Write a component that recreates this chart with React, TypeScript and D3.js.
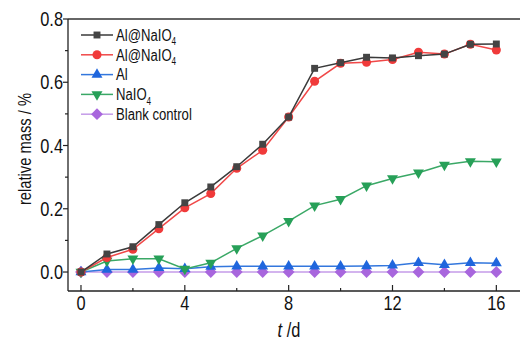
import { useEffect, useRef } from 'react';
import * as d3 from 'd3';

// ─── Data ───────────────────────────────────────────────────

const DAYS = [0, 1, 2, 3, 4, 5, 6, 7, 8, 9, 10, 11, 12, 13, 14, 15, 16];

const AL_NAIO4_A = [0, 0.057, 0.080, 0.150, 0.219, 0.269, 0.333, 0.404, 0.490, 0.644, 0.662, 0.679, 0.677, 0.684, 0.689, 0.720, 0.721];
const AL_NAIO4_B = [0, 0.046, 0.072, 0.137, 0.203, 0.248, 0.328, 0.385, 0.490, 0.603, 0.660, 0.663, 0.672, 0.695, 0.689, 0.720, 0.702];
const AL = [0, 0.008, 0.008, 0.013, 0.010, 0.017, 0.018, 0.018, 0.018, 0.018, 0.018, 0.019, 0.021, 0.029, 0.023, 0.029, 0.028];
const NAIO4 = [0, 0.035, 0.042, 0.042, 0.010, 0.029, 0.075, 0.115, 0.161, 0.210, 0.230, 0.273, 0.296, 0.314, 0.339, 0.350, 0.349];
const BLANK = [0, 0, 0, 0, 0, 0, 0, 0, 0, 0, 0, 0, 0, 0, 0, 0, 0];

const X_TICKS = [0, 4, 8, 12, 16];
const X_MINOR = [2, 6, 10, 14];
const Y_TICKS = [0, 0.2, 0.4, 0.6, 0.8];
const Y_MINOR = [0.1, 0.3, 0.5, 0.7];

type Sym = 'square' | 'circle' | 'triangle' | 'triangleDown' | 'diamond';

const SERIES: { name: string; values: number[]; line: string; fill: string; sym: Sym }[] = [
  { name: 'Al@NaIO', values: AL_NAIO4_A, line: '#3a3a3a', fill: '#444444', sym: 'square' },
  { name: 'Al@NaIO', values: AL_NAIO4_B, line: '#f04848', fill: '#f03a3a', sym: 'circle' },
  { name: 'Al', values: AL, line: '#3377dd', fill: '#1f66dd', sym: 'triangle' },
  { name: 'NaIO', values: NAIO4, line: '#3aa866', fill: '#27a058', sym: 'triangleDown' },
  { name: 'Blank control', values: BLANK, line: '#c49be8', fill: '#a866dd', sym: 'diamond' },
];

const SUB4 = [true, true, false, true, false];

// ─── Layout ─────────────────────────────────────────────────

const W = 520;
const H = 344;
const PLOT = { left: 68, right: 521, top: 19, bottom: 291 };
const FONT = '"Liberation Sans", Arial, sans-serif';
const NARROW = 0.82; // fake Arial Narrow

const SYMBOLS: Record<Sym, { type: d3.SymbolType; size: number; rot: number }> = {
  square: { type: d3.symbolSquare, size: 48, rot: 0 },
  circle: { type: d3.symbolCircle, size: 64, rot: 0 },
  triangle: { type: d3.symbolTriangle, size: 52, rot: 0 },
  triangleDown: { type: d3.symbolTriangle, size: 52, rot: 180 },
  diamond: { type: d3.symbolSquare, size: 70, rot: 45 },
};

type Sel = d3.Selection<any, any, any, any>;

function narrowText(parent: Sel, x: number, y: number, size: number, anchor: string, rot = 0) {
  return parent.append('g')
    .attr('transform', `translate(${x},${y}) rotate(${rot}) scale(${NARROW},1)`)
    .append('text')
    .attr('text-anchor', anchor)
    .attr('font-family', FONT)
    .attr('font-size', size)
    .attr('fill', '#111');
}

export default function App() {
  const svgRef = useRef<SVGSVGElement>(null);

  useEffect(() => {
    if (!svgRef.current) return;
    const svg = d3.select(svgRef.current);
    svg.selectAll('*').remove();

    const x = d3.scaleLinear().domain([-0.5, 16.9]).range([PLOT.left, PLOT.left + (16.9 + 0.5) * 25.96]);
    const y = d3.scaleLinear().domain([-0.06, 0.8]).range([PLOT.bottom, PLOT.top]);

    // Frame
    svg.append('line')
      .attr('x1', PLOT.left).attr('x2', PLOT.right)
      .attr('y1', PLOT.top).attr('y2', PLOT.top)
      .attr('stroke', '#333').attr('stroke-width', 1.3);
    svg.append('line')
      .attr('x1', PLOT.left).attr('x2', PLOT.right)
      .attr('y1', PLOT.bottom).attr('y2', PLOT.bottom)
      .attr('stroke', '#222').attr('stroke-width', 1.3);
    svg.append('line')
      .attr('x1', PLOT.left).attr('x2', PLOT.left)
      .attr('y1', PLOT.top).attr('y2', PLOT.bottom)
      .attr('stroke', '#222').attr('stroke-width', 1.3);

    // X ticks (inward)
    svg.append('g').selectAll('line').data(X_TICKS).join('line')
      .attr('x1', (d) => x(d)).attr('x2', (d) => x(d))
      .attr('y1', PLOT.bottom).attr('y2', PLOT.bottom - 6)
      .attr('stroke', '#222').attr('stroke-width', 1.2);
    svg.append('g').selectAll('line').data(X_MINOR).join('line')
      .attr('x1', (d) => x(d)).attr('x2', (d) => x(d))
      .attr('y1', PLOT.bottom).attr('y2', PLOT.bottom - 3)
      .attr('stroke', '#222').attr('stroke-width', 1.2);
    X_TICKS.forEach((d) => {
      narrowText(svg, x(d), 310, 20, 'middle').text(d);
    });

    // Y ticks (outward)
    svg.append('g').selectAll('line').data(Y_TICKS).join('line')
      .attr('x1', PLOT.left).attr('x2', PLOT.left - 5)
      .attr('y1', (d) => y(d)).attr('y2', (d) => y(d))
      .attr('stroke', '#222').attr('stroke-width', 1.2);
    svg.append('g').selectAll('line').data(Y_MINOR).join('line')
      .attr('x1', PLOT.left).attr('x2', PLOT.left - 3)
      .attr('y1', (d) => y(d)).attr('y2', (d) => y(d))
      .attr('stroke', '#222').attr('stroke-width', 1.2);
    Y_TICKS.forEach((d) => {
      narrowText(svg, 63, y(d), 20, 'end').attr('dy', '0.35em').text(d.toFixed(1));
    });

    // Axis titles
    narrowText(svg, 31, 149, 18, 'middle', -90).text('relative mass / %');
    const xt = narrowText(svg, 289, 337, 20, 'middle');
    xt.append('tspan').attr('font-style', 'italic').text('t');
    xt.append('tspan').text(' /d');

    // Series
    const line = d3.line<number>()
      .x((_, i) => x(DAYS[i]))
      .y((d) => y(d));

    const order = [4, 2, 3, 1, 0];
    order.forEach((si) => {
      const s = SERIES[si];
      const g = svg.append('g');
      g.append('path')
        .datum(s.values)
        .attr('d', line)
        .attr('fill', 'none')
        .attr('stroke', s.line)
        .attr('stroke-width', 1.5);
      const sym = SYMBOLS[s.sym];
      g.selectAll('path.m').data(s.values).join('path')
        .attr('class', 'm')
        .attr('d', d3.symbol().type(sym.type).size(sym.size)())
        .attr('transform', (d, i) => `translate(${x(DAYS[i])},${y(d)}) rotate(${sym.rot})`)
        .attr('fill', s.fill);
    });

    // Legend
    const lg = svg.append('g');
    SERIES.forEach((s, i) => {
      const ly = 35 + i * 19.8;
      lg.append('line')
        .attr('x1', 81).attr('x2', 113)
        .attr('y1', ly).attr('y2', ly)
        .attr('stroke', s.line).attr('stroke-width', 1.5);
      const sym = SYMBOLS[s.sym];
      lg.append('path')
        .attr('d', d3.symbol().type(sym.type).size(sym.size)())
        .attr('transform', `translate(97,${ly}) rotate(${sym.rot})`)
        .attr('fill', s.fill);
      const t = narrowText(lg, 116, ly, 16, 'start')
        .attr('dy', '0.36em')
        .text(s.name);
      if (SUB4[i]) {
        t.append('tspan').attr('font-size', 10).attr('dy', '0.45em').text('4');
      }
    });
  }, []);

  return (
    <svg
      ref={svgRef}
      width={W}
      height={H}
      style={{ position: 'absolute', left: 0, top: 0, background: '#fff' }}
    />
  );
}
